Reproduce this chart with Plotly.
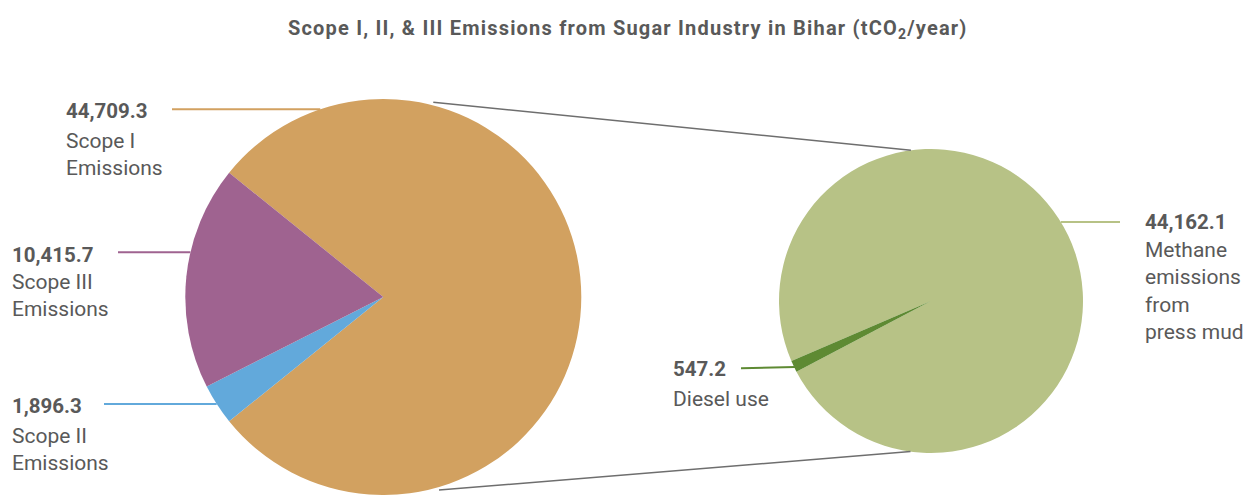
import math
import plotly.graph_objects as go

# ---------------- data ----------------
main_labels = ["Scope I Emissions", "Scope II Emissions", "Scope III Emissions"]
main_values = [44709.3, 1896.3, 10415.7]
main_colors = ["#D2A160", "#62A9DB", "#9F6390"]

sub_labels = ["Methane emissions from press mud", "Diesel use"]
sub_values = [44162.1, 547.2]
sub_colors = ["#B7C286", "#5E8A33"]

title_text = "<b>Scope I, II, &amp; III Emissions from Sugar Industry in Bihar (tCO<sub>2</sub>/year)</b>"

# ---------------- geometry (pixels) ----------------
W, H = 1248, 495
C1 = (383.3, 297.0); R1 = 198.0
C2 = (931.0, 301.0); R2 = 152.0
TXT = "#595959"
FONT = "Roboto"

def px(x):
    return x / W

def py(y):
    return 1 - y / H

# rotation so that Scope I is centred on the right
frac1 = main_values[0] / sum(main_values)
rot1 = 90 - frac1 * 360 / 2
# rotation so that the diesel wedge points to lower-left
frac_d = sub_values[1] / sum(sub_values)
rot2 = 244.5 - frac_d * 360 / 2 - (1 - frac_d) * 360

fig = go.Figure()
fig.add_trace(go.Pie(
    labels=main_labels, values=main_values, sort=False, direction="clockwise",
    rotation=rot1, textinfo="none", hoverinfo="label+value",
    marker=dict(colors=main_colors, line=dict(width=0)),
    domain=dict(x=[px(C1[0] - R1), px(C1[0] + R1)], y=[py(C1[1] + R1), py(C1[1] - R1)]),
    showlegend=False,
))
fig.add_trace(go.Pie(
    labels=sub_labels, values=sub_values, sort=False, direction="clockwise",
    rotation=rot2, textinfo="none", hoverinfo="label+value",
    marker=dict(colors=sub_colors, line=dict(width=0)),
    domain=dict(x=[px(C2[0] - R2), px(C2[0] + R2)], y=[py(C2[1] + R2), py(C2[1] - R2)]),
    showlegend=False,
))

def on_circle(c, r, ang):
    a = math.radians(ang)
    return (c[0] + r * math.sin(a), c[1] - r * math.cos(a))

def edge_left(c, r, y):
    return c[0] - math.sqrt(r * r - (y - c[1]) ** 2)

def edge_right(c, r, y):
    return c[0] + math.sqrt(r * r - (y - c[1]) ** 2)

shapes = []
def line(p0, p1, color, width):
    shapes.append(dict(type="line", xref="paper", yref="paper",
                       x0=px(p0[0]), y0=py(p0[1]), x1=px(p1[0]), y1=py(p1[1]),
                       line=dict(color=color, width=width), layer="above"))

# connector lines between the two pies
line(on_circle(C1, R1 + 3, 14.4), on_circle(C2, R2, -7.6), "#6E6E6E", 1.5)
line(on_circle(C1, R1 + 3, 163.9), on_circle(C2, R2, 187.75), "#6E6E6E", 1.5)

# leader lines
line((172, 109.3), (edge_left(C1, R1, 109.3), 109.3), main_colors[0], 2)
line((118, 252.3), (edge_left(C1, R1, 252.3), 252.3), main_colors[2], 2)
line((104, 404.0), (edge_left(C1, R1, 404.0), 404.0), main_colors[1], 2)
line((edge_right(C2, R2, 222.0), 222.0), (1120, 222.0), sub_colors[0], 2)
line((741, 368.3), (edge_left(C2, R2, 367.0) + 1, 367.0), sub_colors[1], 2)

annotations = []
def label(x, y, text, size, bold=False):
    annotations.append(dict(
        xref="paper", yref="paper", x=px(x - 2), y=py(y), xanchor="left", yanchor="middle",
        text=("<b>%s</b>" % text) if bold else text, showarrow=False, align="left",
        font=dict(family=FONT, size=size, color=TXT)))

def fmt(v):
    return "{:,.1f}".format(v)

VS, NS = 20.5, 21
# value and name labels
label(66, 111.0, fmt(main_values[0]), VS, True)
label(66, 154.5, "Scope I<br>Emissions", NS)
label(12, 254.7, fmt(main_values[2]), VS, True)
label(12, 295.5, "Scope III<br>Emissions", NS)
label(12, 406.3, fmt(main_values[1]), VS, True)
label(12, 449.7, "Scope II<br>Emissions", NS)
label(1145, 221.7, fmt(sub_values[0]), VS, True)
label(1145, 291.2, "Methane<br>emissions<br>from<br>press mud", NS)
label(673, 368.8, fmt(sub_values[1]), VS, True)
label(673, 398.5, "Diesel use", NS)

fig.update_layout(
    width=W, height=H,
    margin=dict(l=0, r=0, t=0, b=0),
    paper_bgcolor="white", plot_bgcolor="white",
    title=dict(text=title_text, x=0.503, xanchor="center", y=py(28), yanchor="middle",
               yref="container", font=dict(family=FONT, size=20, color=TXT)),
    shapes=shapes, annotations=annotations,
    font=dict(family=FONT, color=TXT),
)

# the reference title is set with a little extra tracking
post = ("var gd=document.getElementById('{plot_id}');"
        "function ls(){var t=gd.querySelectorAll('.gtitle');"
        "for(var i=0;i<t.length;i++){t[i].style.letterSpacing='1.2px';}}"
        "ls(); gd.on('plotly_afterplot', ls);")

fig.write_html("out.html", post_script=post)
